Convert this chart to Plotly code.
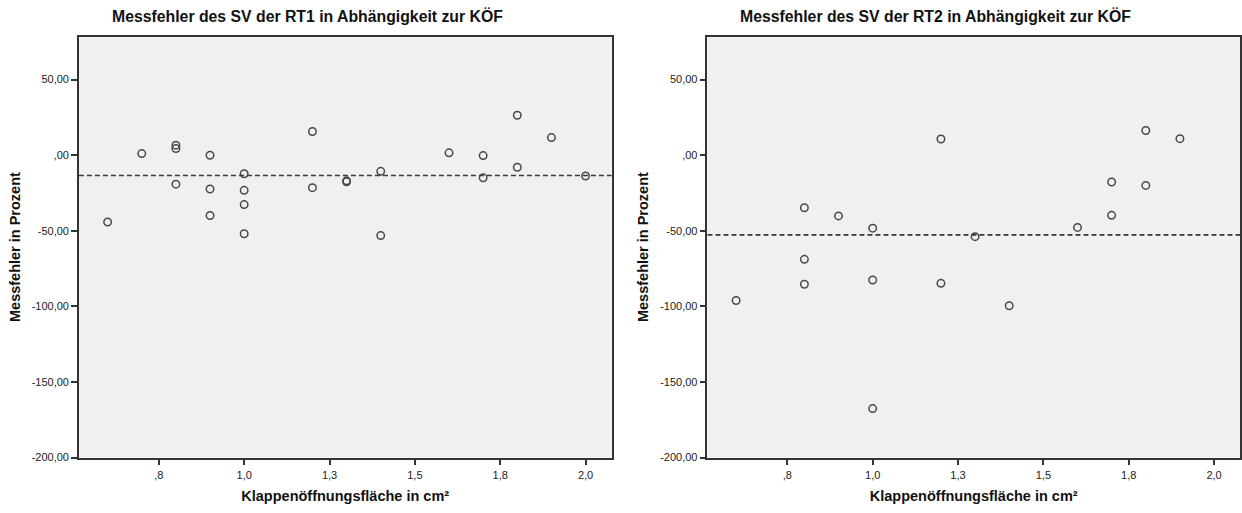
import plotly.graph_objects as go

# ---- data ----
koef_rt1 = [0.6, 0.7, 0.8, 0.8, 0.8, 0.9, 0.9, 0.9, 1.0, 1.0, 1.0, 1.0, 1.2, 1.2,
            1.3, 1.3, 1.4, 1.4, 1.6, 1.7, 1.7, 1.8, 1.8, 1.9, 2.0]
fehler_rt1 = [-44.2, 1.0, 6.6, 4.4, -19.2, -0.1, -22.4, -39.9, -12.3, -23.3, -32.7, -52.0, 15.6, -21.5,
              -17.0, -17.6, -10.7, -53.2, 1.5, -0.3, -15.0, 26.4, -8.0, 11.6, -13.8]

koef_rt2 = [0.6, 0.8, 0.8, 0.8, 0.9, 1.0, 1.0, 1.0, 1.2, 1.2, 1.3, 1.4, 1.6, 1.7, 1.7, 1.8, 1.8, 1.9]
fehler_rt2 = [-96.1, -34.8, -68.9, -85.4, -40.2, -48.3, -82.6, -167.6, 10.7, -84.8, -53.9, -99.6,
              -47.8, -17.8, -39.8, 16.3, -20.0, 10.9]

mean_rt1 = sum(fehler_rt1) / len(fehler_rt1)
mean_rt2 = sum(fehler_rt2) / len(fehler_rt2)

x_tickvals = [0.75, 1.0, 1.25, 1.5, 1.75, 2.0]
x_ticktext = [",8", "1,0", "1,3", "1,5", "1,8", "2,0"]
y_tickvals = [50, 0, -50, -100, -150, -200]
y_ticktext = ["50,00", ",00", "-50,00", "-100,00", "-150,00", "-200,00"]

titles = ["Messfehler des SV der RT1 in Abhängigkeit zur KÖF",
          "Messfehler des SV der RT2 in Abhängigkeit zur KÖF"]
x_title = "Klappenöffnungsfläche in cm²"
y_title = "Messfehler in Prozent"

W, H = 1242, 513
FONT = "Liberation Sans, Arial, sans-serif"

fig = go.Figure()
marker = dict(symbol="circle-open", size=7.5, color="#484848", line=dict(width=1.5, color="#484848"))
fig.add_trace(go.Scatter(x=koef_rt1, y=fehler_rt1, mode="markers", marker=marker,
                         xaxis="x", yaxis="y", showlegend=False))
fig.add_trace(go.Scatter(x=koef_rt2, y=fehler_rt2, mode="markers", marker=marker,
                         xaxis="x2", yaxis="y2", showlegend=False))

# reference (mean) lines
for xr, yr, m in [("x domain", "y", mean_rt1), ("x2 domain", "y2", mean_rt2)]:
    fig.add_shape(type="line", xref=xr, yref=yr, x0=0, x1=1, y0=m, y1=m,
                  line=dict(color="#3a3a3a", width=1.6, dash="5px,3px"))

ydom = [1 - 463 / H, 1 - 37 / H]
xdom1 = [79 / W, 612 / W]
xdom2 = [708 / W, 1241 / W]

axis_title_font = dict(family=FONT, size=14.5, color="#111")
xax = dict(range=[0.516, 2.076], tickvals=x_tickvals, ticktext=x_ticktext, ticks="outside",
           ticklen=6, tickwidth=1.5, tickcolor="#333", showgrid=False, zeroline=False,
           showline=True, linecolor="#333", linewidth=1.5, mirror=True,
           tickfont=dict(family=FONT, size=11, color="#222"),
           title=dict(text="<b>" + x_title + "</b>", font=axis_title_font, standoff=11))
yax = dict(range=[-200, 78.4], tickvals=y_tickvals, ticktext=y_ticktext, ticks="outside",
           ticklen=6, tickwidth=1.5, tickcolor="#333", showgrid=False, zeroline=False,
           showline=True, linecolor="#333", linewidth=1.5, mirror=True,
           tickfont=dict(family=FONT, size=11, color="#222"),
           title=dict(text="<b>" + y_title + "</b>", font=axis_title_font, standoff=8))

title_font = dict(family=FONT, size=15.8, color="#111")
fig.update_layout(
    width=W, height=H,
    margin=dict(l=0, r=0, t=0, b=0),
    paper_bgcolor="white", plot_bgcolor="#f0f0f0",
    xaxis=dict(xax, domain=xdom1, anchor="y"),
    yaxis=dict(yax, domain=ydom, anchor="x"),
    xaxis2=dict(xax, domain=xdom2, anchor="y2"),
    yaxis2=dict(yax, domain=ydom, anchor="x2"),
    annotations=[
        dict(text="<b>" + titles[0] + "</b>", x=308 / W, y=1 - 16 / H, xref="paper", yref="paper",
             showarrow=False, font=title_font, xanchor="center", yanchor="middle"),
        dict(text="<b>" + titles[1] + "</b>", x=936 / W, y=1 - 16 / H, xref="paper", yref="paper",
             showarrow=False, font=title_font, xanchor="center", yanchor="middle"),
    ],
)

fig.write_html("out.html")
